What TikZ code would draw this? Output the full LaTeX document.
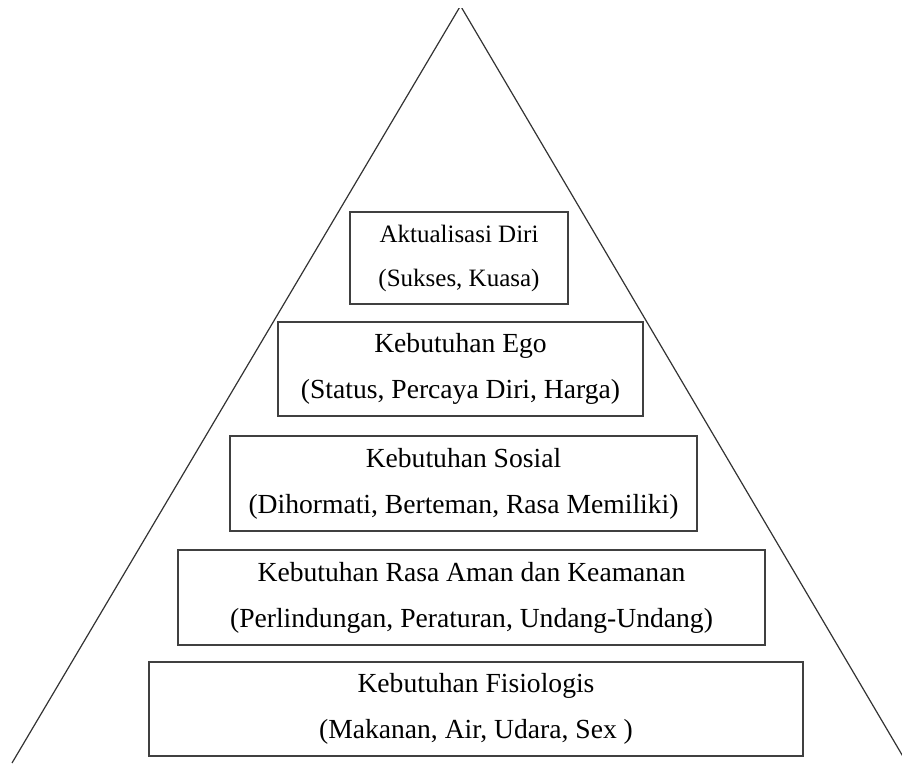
\documentclass[tikz,border=0pt]{standalone}
\usepackage{fontspec}
\setmainfont{Liberation Serif}
\usepackage{tikz}
\usetikzlibrary{positioning}

\begin{document}
\begin{tikzpicture}[x=1pt, y=-1pt, line width=1.2pt,
    level/.style={rectangle, draw=black!75, align=center, inner sep=0pt,
        font={\fontsize{27.6}{46}\selectfont},
        execute at begin node={\rule{0pt}{1.05em}}}]
        \useasboundingbox (0,0) rectangle (902,765);

        % Nodes
        \node[level, font={\fontsize{25}{44}\selectfont}, minimum width=218, minimum height=92]
            (aktualisasi) at (459, 258) {Aktualisasi Diri\\(Sukses, Kuasa)};
        \node[level, minimum width=365, minimum height=94] (ego) at (460.5, 369)
            {Kebutuhan Ego\\(Status, Percaya Diri, Harga)};
        \node[level, minimum width=467, minimum height=95] (sosial) at (463.5, 483.5)
            {Kebutuhan Sosial\\(Dihormati, Berteman, Rasa Memiliki)};
        \node[level, minimum width=587, minimum height=95] (aman) at (471.5, 597.5)
            {Kebutuhan Rasa Aman dan Keamanan\\(Perlindungan, Peraturan, Undang-Undang)};
        \node[level, minimum width=654, minimum height=94] (fisiologis) at (476, 709)
            {Kebutuhan Fisiologis\\(Makanan, Air, Udara, Sex )};

        % Triangle
        \coordinate (apex) at (460.5, 5.8);
        \coordinate (baseL) at (12, 763);
        \coordinate (baseR) at (908, 765);
        \begin{scope}
            \clip (0,9) rectangle (902,765);
            \draw[black!80] (baseL) -- (apex) -- (baseR);
        \end{scope}
    \end{tikzpicture}
\end{document}
